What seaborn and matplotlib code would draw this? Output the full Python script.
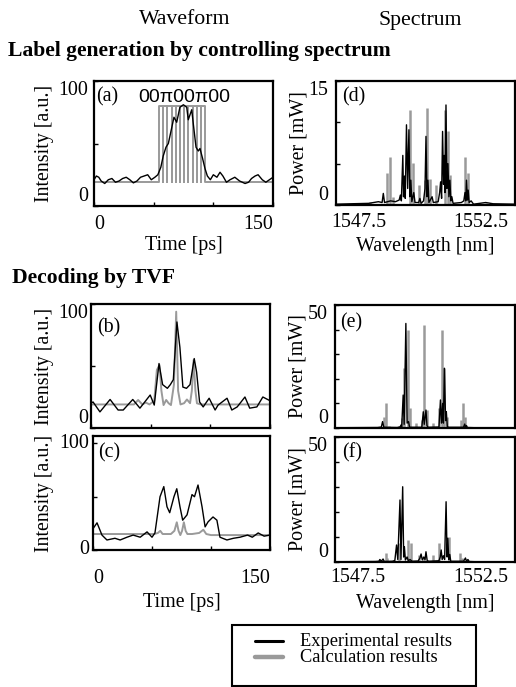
import matplotlib
matplotlib.use('Agg')
import matplotlib.pyplot as plt
import seaborn as sns
from matplotlib.lines import Line2D
from matplotlib.patches import Rectangle
from matplotlib.transforms import ScaledTranslation

BLACK = '#000000'
GRAY = '#9a9a9a'

# ---- waveform (a): label generation ----
a_exp_t = [0, 2, 4, 6, 9, 12, 15, 18, 21, 24, 27, 30, 33, 36, 39, 42, 45, 48, 51, 53.5,
           56, 58, 60.3, 62.3, 65, 67, 69.3, 72, 74.9, 77.7, 79, 81.9, 83.3, 85.5, 87.4, 88.8,
           91, 93, 95, 97.5, 100, 103, 105.6, 108, 111, 114, 118, 122, 126.6, 129.5, 132,
           135, 137.5, 141, 144, 147, 150]
a_exp_v = [21, 24, 23, 20, 18, 21, 22, 19, 20, 22, 23, 21, 18.5, 20, 23, 24, 25, 21, 23, 25,
           31, 40, 47, 50, 62, 71, 67, 79, 81, 79, 69, 77, 65, 47, 44, 46,
           38, 30, 24, 21, 25, 23, 27, 24, 19, 21, 23, 20, 18, 19, 22,
           24, 25, 21, 19, 21, 23]
a_calc_t = [0, 54.8, 54.8, 58.1, 58.1, 58.1, 61.5, 61.5, 61.5, 65.1, 65.1, 65.1, 68.7, 68.7, 68.7,
            72.1, 72.1, 72.1, 75.4, 75.4, 75.4, 79.0, 79.0, 79.0, 82.7, 82.7, 82.7, 86.1, 86.1, 86.1,
            89.7, 89.7, 89.7, 93.0, 93.0, 150]
a_calc_v = [19, 19, 80, 80, 19, 80, 80, 19, 80, 80, 19, 80, 80, 19, 80,
            80, 19, 80, 80, 19, 80, 80, 19, 80, 80, 19, 80, 80, 19, 80,
            80, 19, 80, 80, 19, 19]

# ---- waveform (b): decoding, matched ----
b_exp_t = [0, 1.7, 7.5, 16, 22.7, 27, 35, 41, 49.6, 53, 57, 60, 64, 66.5, 69, 72, 74.5, 77,
           80, 83, 86.5, 88.5, 91, 94, 99, 104, 106.5, 114, 118, 122.5, 129, 133, 139, 144, 150]
b_exp_v = [20, 21, 13, 23, 14.5, 14.5, 23, 16, 26.6, 18.5, 52, 35, 32, 35, 39, 85.5, 65, 33,
           32, 35, 56, 45, 21, 17, 24, 14.5, 18.5, 24, 14.5, 17, 25, 16, 17, 25, 22]
b_calc_t = [0, 30, 36, 39.5, 43, 46, 49, 53, 55.2, 57.4, 59, 60.8, 63, 65, 67, 69.5, 71.4, 73,
            75, 78, 80.4, 83, 84.5, 86, 87.5, 88.8, 92, 150]
b_calc_v = [19, 19, 19, 22.6, 19, 20.5, 19, 22, 46.8, 50.8, 30, 18.5, 22.6, 20, 18.5, 35, 93.8, 30,
            19, 20, 23, 20, 30, 54.8, 30, 19.9, 19, 19]

# ---- waveform (c): decoding, mismatched ----
c_exp_t = [0, 3.4, 7.6, 11.8, 18.6, 23, 28.8, 34, 40, 45.8, 50, 52.5, 56.8, 60, 62.7, 65, 68.6,
           71, 73.7, 76, 79.7, 83.9, 86, 89, 92.4, 95, 97.5, 101.7, 105, 107.6, 113.5, 119,
           124.6, 131, 135, 140, 145, 150]
c_exp_v = [20, 25.5, 14, 9.4, 11, 9.4, 12, 14, 12, 17, 12, 16, 50, 59.5, 40.6, 35, 50,
           57.5, 40.6, 28, 33, 52, 50, 61, 40.6, 21.7, 26.4, 31, 28, 12, 9.4, 11,
           12, 14, 12, 16, 13, 14]
c_calc_t = [0, 52, 55, 57, 59, 62, 66, 69, 71, 72.5, 74, 75.5, 77, 78.5, 80, 84, 90, 93.5, 96, 100, 150]
c_calc_v = [15, 15, 16, 18, 15, 15, 15, 18, 26, 18, 14, 18, 26, 18, 15, 15, 16, 19, 15, 14, 14]

# ---- spectra (d), (e), (f) ----
d_exp_wl = [1546.56, 1547.2, 1547.9, 1548.1, 1548.3, 1548.45, 1548.5, 1548.55, 1548.8, 1549.0,
            1549.15, 1549.2, 1549.24, 1549.3, 1549.33, 1549.37, 1549.4, 1549.45, 1549.5, 1549.55,
            1549.59, 1549.63, 1549.67, 1549.75, 1549.8, 1549.95, 1550.0, 1550.05, 1550.15, 1550.21,
            1550.25, 1550.29, 1550.33, 1550.37, 1550.5, 1550.55, 1550.75, 1550.81, 1550.85, 1550.89,
            1550.93, 1550.97, 1551.0, 1551.03, 1551.07, 1551.11, 1551.15, 1551.19, 1551.23, 1551.27,
            1551.31, 1551.36, 1551.7, 1551.8, 1551.85, 1551.88, 1551.91, 1551.95, 1551.98, 1552.02,
            1552.1, 1552.2, 1552.7, 1553.0, 1553.9]
d_exp_pw = [0.1, 0.15, 0.2, 0.3, 0.4, 0.3, 1.4, 0.3, 0.5, 0.4,
            0.6, 1.2, 0.5, 6.0, 1.0, 3.5, 0.8, 9.7, 2.0, 9.1,
            1.0, 3.0, 0.4, 1.5, 0.3, 0.3, 0.8, 0.2, 0.5, 2.0,
            8.3, 1.0, 3.0, 0.3, 1.0, 0.3, 0.4, 1.5, 2.8, 0.8,
            8.9, 2.5, 6.0, 1.5, 12.1, 2.0, 5.0, 1.0, 3.0, 0.5,
            1.0, 0.2, 0.3, 0.5, 1.5, 0.5, 3.0, 0.6, 1.8, 0.3,
            0.5, 0.1, 0.3, 0.15, 0.1]
d_calc_wl = [1547.95, 1548.64, 1548.77, 1548.88, 1549.59, 1549.70, 1549.97, 1550.2, 1550.31,
             1550.41, 1550.66, 1551.02, 1551.16, 1551.25, 1551.84, 1551.98, 1552.73]
d_calc_pw = [0.4, 3.9, 5.8, 1.0, 11.5, 5.1, 2.4, 3.0, 11.7,
             3.2, 2.4, 11.5, 8.9, 3.6, 5.8, 3.9, 0.3]

e_exp_wl = [1546.56, 1548.3, 1548.45, 1548.5, 1548.55, 1549.1, 1549.22, 1549.25, 1549.28, 1549.34,
            1549.38, 1549.45, 1549.5, 1549.56, 1549.6, 1549.7, 1550.1, 1550.16, 1550.2, 1550.27,
            1550.31, 1550.35, 1550.8, 1550.86, 1550.9, 1550.95, 1550.98, 1551.02, 1551.07, 1551.1,
            1551.14, 1551.2, 1551.8, 1551.85, 1551.88, 1551.92, 1551.96, 1552.3, 1553.9]
e_exp_pw = [0.1, 0.2, 0.4, 2.6, 0.3, 0.2, 0.5, 1.2, 0.5, 13.4,
            1.5, 42.5, 2.0, 2.6, 0.3, 0.3, 0.3, 6.6, 1.5, 7.3,
            1.0, 0.3, 0.4, 11.4, 2.0, 10.0, 2.0, 24.3, 3.0, 6.6,
            0.5, 0.3, 0.3, 1.6, 0.3, 1.0, 0.2, 0.1, 0.1]
e_calc_wl = [1548.57, 1548.66, 1548.75, 1549.29, 1549.36, 1549.53, 1549.62, 1549.86, 1550.1, 1550.2,
             1550.3, 1550.57, 1550.82, 1550.91, 1551.0, 1551.12, 1551.71, 1551.77, 1551.88]
e_calc_pw = [4.6, 10.3, 1.0, 3.9, 24.3, 39.8, 8.0, 1.9, 3.3, 41.9,
             7.3, 1.9, 8.0, 39.8, 24.3, 4.6, 3.3, 10.3, 4.6]

f_exp_wl = [1546.56, 1548.2, 1548.35, 1548.39, 1548.45, 1548.52, 1548.57, 1548.9, 1549.0, 1549.07,
            1549.12, 1549.21, 1549.25, 1549.32, 1549.36, 1549.39, 1549.43, 1549.5, 1549.55, 1549.62,
            1549.7, 1549.95, 1550.02, 1550.07, 1550.12, 1550.18, 1550.23, 1550.27, 1550.32, 1550.4,
            1550.8, 1550.85, 1550.89, 1550.93, 1550.98, 1551.03, 1551.09, 1551.13, 1551.16, 1551.2,
            1551.24, 1551.28, 1551.8, 1551.88, 1551.92, 1551.98, 1552.03, 1552.3, 1553.9]
f_exp_pw = [0.1, 0.2, 0.3, 1.0, 0.3, 1.2, 0.2, 0.3, 0.6, 6.8,
            1.0, 24.8, 1.0, 30.1, 2.0, 6.1, 0.8, 2.0, 0.5, 1.0,
            0.3, 0.4, 1.5, 3.2, 0.8, 2.0, 1.0, 4.1, 0.5, 0.3,
            0.5, 2.0, 4.8, 1.0, 2.5, 1.0, 24.1, 2.0, 9.5, 1.0,
            3.0, 0.3, 0.3, 1.6, 0.3, 1.0, 0.2, 0.1, 0.1]
f_calc_wl = [1548.63, 1548.7, 1549.18, 1549.55, 1549.66, 1550.0, 1550.2, 1550.55, 1550.82, 1551.2,
             1551.64, 1551.72]
f_calc_pw = [3.5, 1.5, 7.5, 9.0, 7.7, 2.8, 2.0, 2.8, 7.7, 9.9, 3.5, 1.5]

panel_tags = ['(a)', '(b)', '(c)', '(d)', '(e)', '(f)']
legend_labels = ['Experimental results', 'Calculation results']

sns.set_theme(style='white')
plt.rcParams['font.family'] = ['Liberation Serif', 'DejaVu Serif']
plt.rcParams['font.size'] = 14.4
for key in ['text.color', 'axes.labelcolor', 'xtick.color', 'ytick.color']:
    plt.rcParams[key] = BLACK

FS = 14.4
W, H = 516, 687
fig = plt.figure(figsize=(W / 100, H / 100), dpi=100)


def add_box(l, t, r, b):
    return fig.add_axes([l / W, 1 - b / H, (r - l) / W, (b - t) / H])


def frame(ax):
    for sp in ax.spines.values():
        sp.set_visible(True)
        sp.set_color(BLACK)
        sp.set_linewidth(1.6)
    ax.tick_params(axis='both', direction='in', length=3, width=1, color=BLACK,
                   labelsize=FS, labelcolor=BLACK, left=True, bottom=True)


def yticks(ax, ticks, top_lab, pad, va0='bottom', va1='top'):
    ax.set_yticks(ticks)
    ax.set_yticklabels(['0'] + [''] * (len(ticks) - 2) + [top_lab])
    labs = ax.get_yticklabels()
    labs[0].set_va(va0)
    labs[-1].set_va(va1)
    ax.tick_params(axis='y', pad=pad)


def time_axes(ax, ylim, pad_x, pad_y, va0='bottom', va1='top'):
    frame(ax)
    ax.set_xlim(0, 150)
    ax.set_ylim(*ylim)
    ax.set_xticks([0, 50, 100, 150])
    ax.set_xticklabels(['0', '', '', '150'])
    xl = ax.get_xticklabels()
    xl[0].set_ha('left')
    xl[-1].set_ha('right')
    xl[-1].set_transform(xl[-1].get_transform() + ScaledTranslation(-0.05, 0, fig.dpi_scale_trans))
    ax.tick_params(axis='x', pad=pad_x)
    yticks(ax, [0, 50, 100], '100', pad_y, va0, va1)
    ax.set_ylabel('Intensity [a.u.]', fontsize=FS)
    ax.set_xlabel('')


def spec_axes(ax, ymax, step, pad_x, pad_y):
    frame(ax)
    ax.set_xlim(1546.56, 1553.9)
    ax.set_ylim(0, ymax)
    ax.set_xticks([1547.5, 1552.5])
    ax.set_xticklabels(['1547.5', '1552.5'])
    ax.tick_params(axis='x', length=0, pad=pad_x)
    yt = [i * step for i in range(int(round(ymax / step)) + 1)]
    yticks(ax, yt, str(ymax), pad_y)
    ax.set_ylabel('Power [mW]', fontsize=FS)
    ax.set_xlabel('')


def waveform(ax, t_c, v_c, t_e, v_e):
    sns.lineplot(x=t_c, y=v_c, ax=ax, color=GRAY, lw=1.4, estimator=None, sort=False)
    sns.lineplot(x=t_e, y=v_e, ax=ax, color=BLACK, lw=1.0, estimator=None, sort=False)


def spectrum(ax, wl_c, pw_c, wl_e, pw_e):
    ax.vlines(wl_c, 0, pw_c, color=GRAY, lw=1.8)
    sns.lineplot(x=wl_e, y=pw_e, ax=ax, color=BLACK, lw=1.0, estimator=None, sort=False)


ax_a = add_box(94, 81, 273, 206)
ax_d = add_box(336, 81, 515, 205)
ax_b = add_box(91, 304, 270, 428)
ax_e = add_box(335, 305, 515, 428)
ax_c = add_box(93, 436, 270, 550)
ax_f = add_box(335, 437, 515, 562)

waveform(ax_a, a_calc_t, a_calc_v, a_exp_t, a_exp_v)
waveform(ax_b, b_calc_t, b_calc_v, b_exp_t, b_exp_v)
waveform(ax_c, c_calc_t, c_calc_v, c_exp_t, c_exp_v)
spectrum(ax_d, d_calc_wl, d_calc_pw, d_exp_wl, d_exp_pw)
spectrum(ax_e, e_calc_wl, e_calc_pw, e_exp_wl, e_exp_pw)
spectrum(ax_f, f_calc_wl, f_calc_pw, f_exp_wl, f_exp_pw)

time_axes(ax_a, (0, 100), 6.5, 4)
time_axes(ax_b, (0, 100), 6.5, 2)
time_axes(ax_c, (0, 107), 14, 3, 'center', 'center')
spec_axes(ax_d, 15, 5, 5.5, 5.5)
spec_axes(ax_e, 50, 10, 5.5, 5)
spec_axes(ax_f, 50, 10, 4, 5)

# (b) and (e) carry no x tick labels
ax_b.set_xticklabels([])
ax_e.set_xticklabels([])

ax_a.set_xlabel('Time [ps]', fontsize=FS)
ax_c.set_xlabel('Time [ps]', fontsize=FS)
ax_d.set_xlabel('Wavelength [nm]', fontsize=FS)
ax_f.set_xlabel('Wavelength [nm]', fontsize=FS)
ax_a.xaxis.set_label_coords(0.5, -0.24)
ax_c.xaxis.set_label_coords(0.5, -0.375)
ax_d.xaxis.set_label_coords(0.5, -0.255)
ax_f.xaxis.set_label_coords(0.5, -0.255)

ax_a.yaxis.set_label_coords(-0.223, 0.5)
ax_b.yaxis.set_label_coords(-0.207, 0.5)
ax_c.yaxis.set_label_coords(-0.22, 0.5)
ax_d.yaxis.set_label_coords(-0.156, 0.5)
ax_e.yaxis.set_label_coords(-0.15, 0.5)
ax_f.yaxis.set_label_coords(-0.15, 0.5)

tag_pos = [(ax_a, 0.01, 0.872), (ax_b, 0.034, 0.806), (ax_c, 0.028, 0.85),
           (ax_d, 0.034, 0.872), (ax_e, 0.028, 0.853), (ax_f, 0.039, 0.872)]
for tag, (ax, x, y) in zip(panel_tags, tag_pos):
    ax.text(x, y, tag, transform=ax.transAxes, ha='left', va='center', fontsize=FS)

ax_a.text(0.503, 0.872, '00\u03c000\u03c000', transform=ax_a.transAxes, ha='center', va='center',
          fontsize=14, family=['Liberation Sans', 'DejaVu Sans'])

# headings
fig.text(185 / W, 1 - 20 / H, 'Waveform', ha='center', va='center', fontsize=15.7)
fig.text(420 / W, 1 - 20 / H, 'Spectrum', ha='center', va='center', fontsize=15.7)
fig.text(8 / W, 1 - 51 / H, 'Label generation by controlling spectrum', ha='left', va='center',
         fontsize=15.6, fontweight='bold')
fig.text(12 / W, 1 - 278 / H, 'Decoding by TVF', ha='left', va='center',
         fontsize=15.6, fontweight='bold')

# legend box
fig.add_artist(Rectangle((232 / W, 1 - 686 / H), 244 / W, 61 / H, transform=fig.transFigure,
                         facecolor='white', edgecolor=BLACK, lw=1.5))
for i, (lab, col, lw) in enumerate(zip(legend_labels, [BLACK, GRAY], [2.2, 3.2])):
    yy = 1 - (641 + 16 * i) / H
    fig.add_artist(Line2D([255 / W, 283 / W], [yy, yy], transform=fig.transFigure, color=col, lw=lw))
    fig.text(300 / W, yy, lab, ha='left', va='center', fontsize=13.2)

fig.savefig('out.png', dpi=100)
